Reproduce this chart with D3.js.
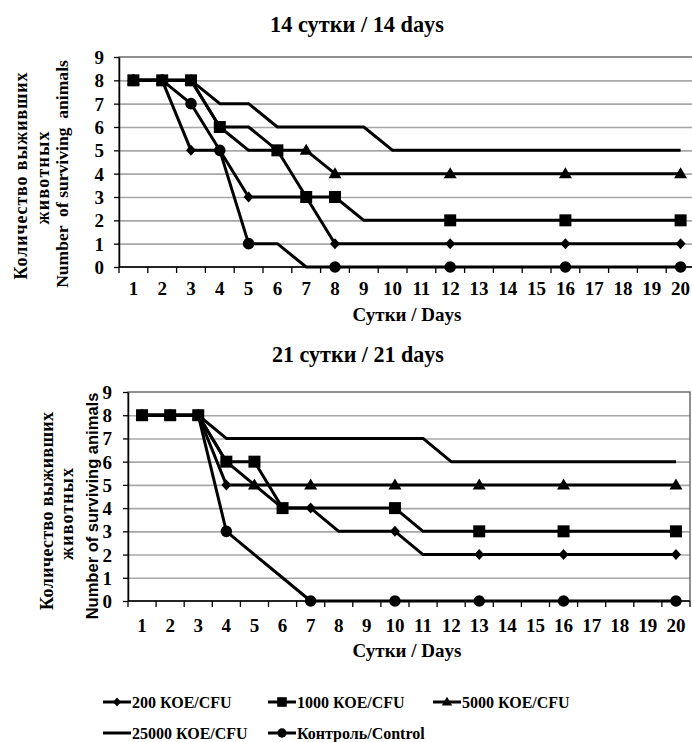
<!DOCTYPE html>
<html>
<head>
<meta charset="utf-8">
<script src="https://cdn.jsdelivr.net/npm/d3@7"></script>
<style>
  body { margin: 0; background: #fff; }
  svg { display: block; }
  text { font-family: "Liberation Serif", "Times New Roman", serif; font-weight: bold; fill: #000; }
</style>
</head>
<body>
<div id="chart"></div>
<script>
// days on the category axis, same for both panels
const days = [1, 2, 3, 4, 5, 6, 7, 8, 9, 10, 11, 12, 13, 14, 15, 16, 17, 18, 19, 20];
const yTicks = [0, 1, 2, 3, 4, 5, 6, 7, 8, 9];

const seriesNames = ["200 КОЕ/CFU", "1000 КОЕ/CFU", "5000 КОЕ/CFU", "25000 КОЕ/CFU", "Контроль/Control"];
const seriesSymbols = ["diamond", "square", "triangle", "none", "circle"];

// 14 days
const d14_cfu200   = [8, 8, 5, 5, 3, 3, 3, 1, 1, 1, 1, 1, 1, 1, 1, 1, 1, 1, 1, 1];
const d14_cfu1000  = [8, 8, 8, 6, 6, 5, 3, 3, 2, 2, 2, 2, 2, 2, 2, 2, 2, 2, 2, 2];
const d14_cfu5000  = [8, 8, 8, 6, 5, 5, 5, 4, 4, 4, 4, 4, 4, 4, 4, 4, 4, 4, 4, 4];
const d14_cfu25000 = [8, 8, 8, 7, 7, 6, 6, 6, 6, 5, 5, 5, 5, 5, 5, 5, 5, 5, 5, 5];
const d14_control  = [8, 8, 7, 5, 1, 1, 0, 0, 0, 0, 0, 0, 0, 0, 0, 0, 0, 0, 0, 0];
// days that carry a marker
const d14_mark200     = [1, 2, 3, 5, 8, 12, 16, 20];
const d14_mark1000    = [1, 2, 3, 4, 6, 7, 8, 12, 16, 20];
const d14_mark5000    = [1, 2, 3, 7, 8, 12, 16, 20];
const d14_mark25000   = [];
const d14_markControl = [1, 2, 3, 4, 5, 8, 12, 16, 20];

// 21 days
const d21_cfu200   = [8, 8, 8, 5, 5, 4, 4, 3, 3, 3, 2, 2, 2, 2, 2, 2, 2, 2, 2, 2];
const d21_cfu1000  = [8, 8, 8, 6, 6, 4, 4, 4, 4, 4, 3, 3, 3, 3, 3, 3, 3, 3, 3, 3];
const d21_cfu5000  = [8, 8, 8, 6, 5, 5, 5, 5, 5, 5, 5, 5, 5, 5, 5, 5, 5, 5, 5, 5];
const d21_cfu25000 = [8, 8, 8, 7, 7, 7, 7, 7, 7, 7, 7, 6, 6, 6, 6, 6, 6, 6, 6, 6];
const d21_control  = [8, 8, 8, 3, 2, 1, 0, 0, 0, 0, 0, 0, 0, 0, 0, 0, 0, 0, 0, 0];
const d21_mark200     = [1, 2, 3, 4, 7, 10, 13, 16, 20];
const d21_mark1000    = [1, 2, 3, 4, 5, 6, 10, 13, 16, 20];
const d21_mark5000    = [1, 2, 3, 5, 7, 10, 13, 16, 20];
const d21_mark25000   = [];
const d21_markControl = [1, 2, 3, 4, 7, 10, 13, 16, 20];


const svg = d3.select("#chart").append("svg")
    .attr("width", 692).attr("height", 742);

// marker shapes, centred on 0,0
function markerPath(type, k) {
    k = k || 1;
    if (type == "diamond") {
        let w = 5 * k, h = 5.5 * k;
        return `M0,${-h}L${w},0L0,${h}L${-w},0Z`;
    }
    if (type == "square") {
        let s = 6 * k;
        return `M${-s},${-s}H${s}V${s}H${-s}Z`;
    }
    if (type == "triangle") {
        let w = 6.5 * k;
        return `M0,${-6.5 * k}L${w},${4.5 * k}L${-w},${4.5 * k}Z`;
    }
    if (type == "circle") {
        let r = 5.8 * k;
        return `M${r},0A${r},${r} 0 1,1 ${-r},0A${r},${r} 0 1,1 ${r},0Z`;
    }
    return null;
}

// scale the font so the text is as wide as in the picture
function fitWidth(sel, target) {
    const node = sel.node();
    const fs = parseFloat(node.style.fontSize);
    sel.style("font-size", (fs * target / node.getComputedTextLength()) + "px");
    return sel;
}

function drawPanel(p) {
    const x = d3.scaleBand().domain(days).range([p.left, p.right]);
    const y = d3.scaleLinear().domain([0, 9]).range([p.bottom, p.top]);
    const cx = d => x(d) + x.bandwidth() / 2;

    const g = svg.append("g");

    // GRID
    g.append("g")
        .call(d3.axisLeft(y).tickValues(yTicks.slice(1, -1)).tickSize(-(p.right - p.left)).tickFormat(""))
        .attr("transform", `translate(${p.left},0)`)
        .call(s => s.select(".domain").remove())
        .selectAll("line").attr("stroke", "#a8a8a8").attr("stroke-width", 1.6);

    // plot border
    g.append("rect")
        .attr("x", p.left).attr("y", p.top)
        .attr("width", p.right - p.left).attr("height", p.bottom - p.top)
        .attr("fill", "none").attr("stroke", "#555").attr("stroke-width", 1.3);

    // Y AXIS
    const ya = g.append("g")
        .attr("transform", `translate(${p.left},0)`)
        .call(d3.axisLeft(y).tickValues(yTicks).tickSize(5).tickSizeOuter(0).tickPadding(8));
    ya.select(".domain").attr("stroke", "#000").attr("stroke-width", 1.5);
    ya.selectAll(".tick line").attr("stroke", "#000").attr("stroke-width", 1.3);
    ya.selectAll(".tick text")
        .attr("x", p.yLabelRight - p.left).attr("dy", "0.34em")
        .style("font-family", "Liberation Serif").style("font-size", "19px").style("font-weight", "bold");

    // X AXIS
    const xa = g.append("g").attr("transform", `translate(0,${p.bottom})`);
    xa.append("line")
        .attr("x1", p.left).attr("x2", p.right)
        .attr("stroke", "#000").attr("stroke-width", 1.5);
    xa.selectAll(".xtick").data(days.concat([null])).enter().append("line")
        .attr("class", "xtick")
        .attr("x1", d => d == null ? p.right : x(d)).attr("x2", d => d == null ? p.right : x(d))
        .attr("y1", 0).attr("y2", 6)
        .attr("stroke", "#000").attr("stroke-width", 1.3);
    xa.selectAll(".xlab").data(days).enter().append("text")
        .attr("class", "xlab")
        .attr("x", cx).attr("y", p.xLabelBase - p.bottom)
        .attr("text-anchor", "middle")
        .style("font-size", "19px")
        .text(d => d);

    // LINES
    const line = d3.line()
        .x((v, i) => cx(days[i]))
        .y(v => y(v));
    p.series.forEach(s => {
        g.append("path")
            .datum(s.values)
            .attr("d", line)
            .attr("fill", "none").attr("stroke", "#000")
            .attr("stroke-width", 3).attr("stroke-linejoin", "round");
    });

    // MARKERS
    p.series.forEach(s => {
        if (s.symbol == "none") return;
        g.selectAll(null).data(s.marks).enter().append("path")
            .attr("d", markerPath(s.symbol))
            .attr("transform", d => `translate(${cx(d)},${y(s.values[days.indexOf(d)])})`)
            .attr("fill", "#000");
    });

    // TITLE
    fitWidth(svg.append("text")
        .attr("x", p.titleX).attr("y", p.titleY)
        .attr("text-anchor", "middle")
        .style("font-size", "20px")
        .text(p.title), p.titleWidth);

    svg.append("text")
        .attr("x", 407).attr("y", p.axisTitleY)
        .attr("text-anchor", "middle")
        .style("font-size", "19px")
        .text("Сутки / Days");

    // rotated y title, three lines
    p.yTitle.forEach(t => {
        const tx = svg.append("text")
            .attr("transform", `translate(${t.x},${t.y}) rotate(-90)`)
            .attr("text-anchor", "middle")
            .attr("xml:space", "preserve")
            .style("font-family", t.font)
            .style("font-size", t.size + "px")
            .text(t.text);
        if (t.spread) tx.attr("textLength", t.len).attr("lengthAdjust", "spacing");
        else fitWidth(tx, t.len);
    });
}

function buildSeries(values, marks) {
    return values.map((v, i) => ({ values: v, marks: marks[i], symbol: seriesSymbols[i] }));
}

drawPanel({
    left: 119, right: 695, top: 57, bottom: 267,
    yLabelRight: 104, xLabelBase: 295, axisTitleY: 321,
    title: "14 сутки / 14 days", titleX: 357, titleY: 32, titleWidth: 174,
    series: buildSeries(
        [d14_cfu200, d14_cfu1000, d14_cfu5000, d14_cfu25000, d14_control],
        [d14_mark200, d14_mark1000, d14_mark5000, d14_mark25000, d14_markControl]),
    yTitle: [
        { text: "Количество выживших", x: 27, y: 176, size: 18, len: 207, spread: true, font: "Liberation Serif" },
        { text: "животных", x: 49, y: 178, size: 18, len: 93, spread: true, font: "Liberation Serif" },
        { text: "Number  of surviving  animals", x: 68, y: 174, size: 17, len: 228, font: "Liberation Serif" }
    ]
});

drawPanel({
    left: 128, right: 690, top: 392, bottom: 601,
    yLabelRight: 112, xLabelBase: 632, axisTitleY: 657,
    title: "21 сутки / 21 days", titleX: 358, titleY: 362, titleWidth: 172,
    series: buildSeries(
        [d21_cfu200, d21_cfu1000, d21_cfu5000, d21_cfu25000, d21_control],
        [d21_mark200, d21_mark1000, d21_mark5000, d21_mark25000, d21_markControl]),
    yTitle: [
        { text: "Количество выживших", x: 53, y: 511, size: 18, len: 198, spread: true, font: "Liberation Serif" },
        { text: "животных", x: 73, y: 514, size: 18, len: 92, spread: true, font: "Liberation Serif" },
        { text: "Number of surviving animals", x: 98, y: 506, size: 16.5, len: 227, font: "Liberation Sans" }
    ]
});

// LEGEND
const legendX = [103, 268, 433, 103, 268];
const legendY = [702, 702, 702, 733, 733];
const legend = svg.append("g");
seriesNames.forEach((name, i) => {
    const lg = legend.append("g").attr("transform", `translate(${legendX[i]},${legendY[i]})`);
    lg.append("line").attr("x1", 0).attr("x2", 28)
        .attr("stroke", "#000").attr("stroke-width", 3);
    if (seriesSymbols[i] != "none")
        lg.append("path").attr("d", markerPath(seriesSymbols[i], 0.8))
            .attr("transform", "translate(14,0)").attr("fill", "#000");
    lg.append("text").attr("x", 29).attr("y", 6)
        .style("font-size", "16px")
        .text(name);
});
</script>
</body>
</html>
